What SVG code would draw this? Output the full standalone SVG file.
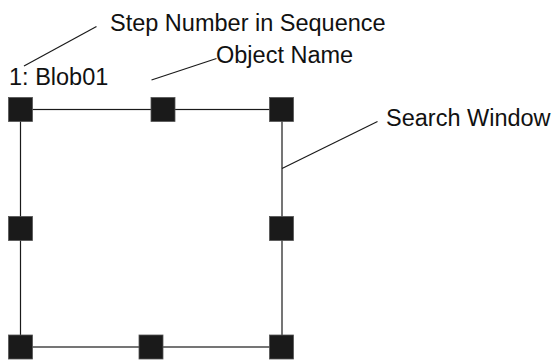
<svg xmlns="http://www.w3.org/2000/svg" width="557" height="360" viewBox="0 0 557 360">
<style>
.lbl{font-family:"Liberation Sans",Arial,sans-serif;font-size:23.5px;fill:#111}
.ln{stroke:#1a1a1a;stroke-width:1.2;fill:none}
.h{fill:#1a1a1a;stroke:#555;stroke-width:0.8}
</style>
<rect width="557" height="360" fill="#fff"/>
<g id="connectors">
<rect class="ln" x="20.5" y="109.5" width="261.5" height="237.5"/>
<line class="ln" x1="24" y1="66" x2="96.5" y2="26.5"/>
<line class="ln" x1="151.5" y1="80" x2="216.5" y2="58.5"/>
<line class="ln" x1="282" y1="168.5" x2="377.5" y2="121.5"/>
</g>
<g id="handles">
<rect class="h" x="8.5" y="97.5" width="24" height="24"/>
<rect class="h" x="151" y="97.5" width="24" height="24"/>
<rect class="h" x="269.5" y="97.5" width="24" height="24"/>
<rect class="h" x="8.5" y="216.5" width="24" height="24"/>
<rect class="h" x="269.5" y="216.5" width="24" height="24"/>
<rect class="h" x="8.5" y="335" width="24" height="24"/>
<rect class="h" x="139" y="335" width="24" height="24"/>
<rect class="h" x="269.5" y="335" width="24" height="24"/>
</g>
<g id="label-step"><text class="lbl" x="110" y="31">Step Number in Sequence</text></g>
<g id="label-object"><text class="lbl" x="216" y="63">Object Name</text></g>
<g id="label-blob"><text class="lbl" x="9" y="85">1: Blob01</text></g>
<g id="label-window"><text class="lbl" x="386" y="126">Search Window</text></g>
</svg>
